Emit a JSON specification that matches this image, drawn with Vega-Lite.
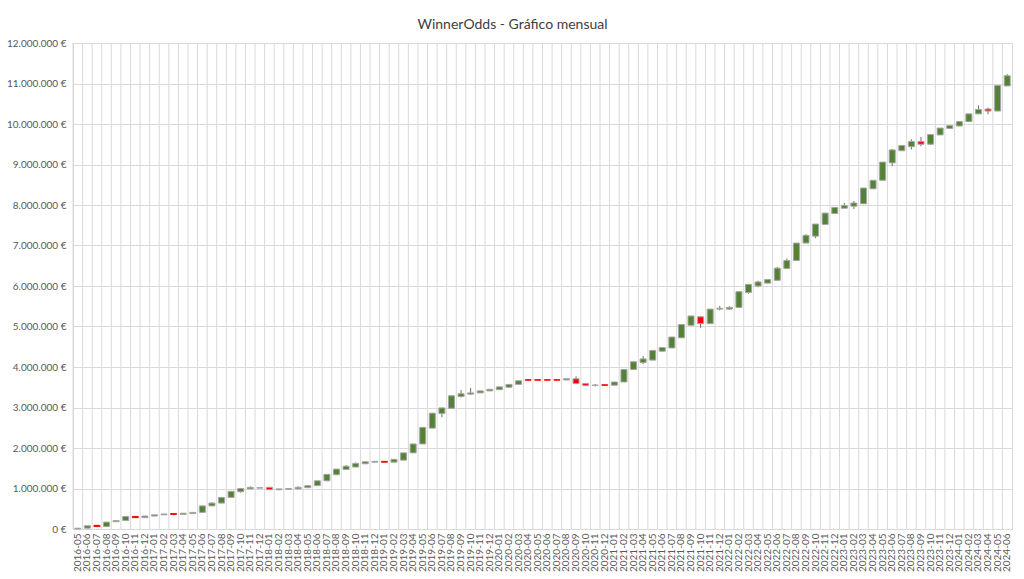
{
  "$schema": "https://vega.github.io/schema/vega-lite/v6.json",
  "width": 939,
  "height": 486,
  "autosize": "none",
  "padding": {"left": 73, "top": 43, "right": 12, "bottom": 50},
  "title": {
    "text": "WinnerOdds - Gráfico mensual",
    "font": "Lato",
    "fontSize": 14,
    "fontWeight": "normal",
    "color": "#404040",
    "anchor": "middle",
    "baseline": "alphabetic",
    "offset": -5,
    "dx": -30
  },
  "data": {
    "values": [
      {"m": "2016-05", "o": 0, "c": 20000, "h": 20000, "l": 0},
      {"m": "2016-06", "o": 20000, "c": 80000, "h": 80000, "l": 20000},
      {"m": "2016-07", "o": 90000, "c": 60000, "h": 90000, "l": 60000},
      {"m": "2016-08", "o": 60000, "c": 170000, "h": 170000, "l": 60000},
      {"m": "2016-09", "o": 180000, "c": 210000, "h": 210000, "l": 180000},
      {"m": "2016-10", "o": 210000, "c": 310000, "h": 310000, "l": 210000},
      {"m": "2016-11", "o": 310000, "c": 280000, "h": 310000, "l": 280000},
      {"m": "2016-12", "o": 280000, "c": 320000, "h": 320000, "l": 280000},
      {"m": "2017-01", "o": 320000, "c": 350000, "h": 350000, "l": 320000},
      {"m": "2017-02", "o": 350000, "c": 370000, "h": 370000, "l": 350000},
      {"m": "2017-03", "o": 380000, "c": 360000, "h": 380000, "l": 340000},
      {"m": "2017-04", "o": 360000, "c": 390000, "h": 390000, "l": 360000},
      {"m": "2017-05", "o": 380000, "c": 410000, "h": 410000, "l": 380000},
      {"m": "2017-06", "o": 410000, "c": 570000, "h": 570000, "l": 410000},
      {"m": "2017-07", "o": 570000, "c": 640000, "h": 660000, "l": 570000},
      {"m": "2017-08", "o": 640000, "c": 780000, "h": 780000, "l": 640000},
      {"m": "2017-09", "o": 780000, "c": 930000, "h": 930000, "l": 780000},
      {"m": "2017-10", "o": 920000, "c": 1000000, "h": 1000000, "l": 900000},
      {"m": "2017-11", "o": 990000, "c": 1030000, "h": 1050000, "l": 990000},
      {"m": "2017-12", "o": 1010000, "c": 1020000, "h": 1020000, "l": 1010000},
      {"m": "2018-01", "o": 1030000, "c": 970000, "h": 1030000, "l": 970000},
      {"m": "2018-02", "o": 970000, "c": 990000, "h": 990000, "l": 960000},
      {"m": "2018-03", "o": 980000, "c": 1000000, "h": 1000000, "l": 980000},
      {"m": "2018-04", "o": 990000, "c": 1030000, "h": 1050000, "l": 990000},
      {"m": "2018-05", "o": 1020000, "c": 1070000, "h": 1070000, "l": 1020000},
      {"m": "2018-06", "o": 1070000, "c": 1190000, "h": 1190000, "l": 1070000},
      {"m": "2018-07", "o": 1190000, "c": 1350000, "h": 1350000, "l": 1190000},
      {"m": "2018-08", "o": 1340000, "c": 1480000, "h": 1480000, "l": 1340000},
      {"m": "2018-09", "o": 1470000, "c": 1550000, "h": 1580000, "l": 1470000},
      {"m": "2018-10", "o": 1530000, "c": 1620000, "h": 1640000, "l": 1530000},
      {"m": "2018-11", "o": 1610000, "c": 1660000, "h": 1660000, "l": 1610000},
      {"m": "2018-12", "o": 1650000, "c": 1670000, "h": 1670000, "l": 1650000},
      {"m": "2019-01", "o": 1670000, "c": 1650000, "h": 1670000, "l": 1650000},
      {"m": "2019-02", "o": 1650000, "c": 1720000, "h": 1720000, "l": 1650000},
      {"m": "2019-03", "o": 1700000, "c": 1880000, "h": 1880000, "l": 1700000},
      {"m": "2019-04", "o": 1880000, "c": 2100000, "h": 2100000, "l": 1880000},
      {"m": "2019-05", "o": 2100000, "c": 2510000, "h": 2510000, "l": 2100000},
      {"m": "2019-06", "o": 2490000, "c": 2860000, "h": 2860000, "l": 2490000},
      {"m": "2019-07", "o": 2850000, "c": 2990000, "h": 2990000, "l": 2760000},
      {"m": "2019-08", "o": 2980000, "c": 3290000, "h": 3290000, "l": 2980000},
      {"m": "2019-09", "o": 3270000, "c": 3340000, "h": 3430000, "l": 3250000},
      {"m": "2019-10", "o": 3330000, "c": 3360000, "h": 3480000, "l": 3310000},
      {"m": "2019-11", "o": 3360000, "c": 3410000, "h": 3410000, "l": 3360000},
      {"m": "2019-12", "o": 3410000, "c": 3450000, "h": 3450000, "l": 3410000},
      {"m": "2020-01", "o": 3440000, "c": 3510000, "h": 3510000, "l": 3440000},
      {"m": "2020-02", "o": 3500000, "c": 3570000, "h": 3570000, "l": 3480000},
      {"m": "2020-03", "o": 3570000, "c": 3660000, "h": 3660000, "l": 3570000},
      {"m": "2020-04", "o": 3685000, "c": 3675000, "h": 3685000, "l": 3675000},
      {"m": "2020-05", "o": 3685000, "c": 3675000, "h": 3685000, "l": 3675000},
      {"m": "2020-06", "o": 3685000, "c": 3675000, "h": 3685000, "l": 3675000},
      {"m": "2020-07", "o": 3685000, "c": 3675000, "h": 3685000, "l": 3675000},
      {"m": "2020-08", "o": 3680000, "c": 3710000, "h": 3710000, "l": 3680000},
      {"m": "2020-09", "o": 3710000, "c": 3590000, "h": 3770000, "l": 3590000},
      {"m": "2020-10", "o": 3590000, "c": 3540000, "h": 3610000, "l": 3540000},
      {"m": "2020-11", "o": 3545000, "c": 3555000, "h": 3580000, "l": 3520000},
      {"m": "2020-12", "o": 3560000, "c": 3550000, "h": 3560000, "l": 3550000},
      {"m": "2021-01", "o": 3550000, "c": 3630000, "h": 3630000, "l": 3550000},
      {"m": "2021-02", "o": 3630000, "c": 3940000, "h": 3940000, "l": 3630000},
      {"m": "2021-03", "o": 3940000, "c": 4130000, "h": 4130000, "l": 3940000},
      {"m": "2021-04", "o": 4110000, "c": 4200000, "h": 4270000, "l": 4070000},
      {"m": "2021-05", "o": 4170000, "c": 4410000, "h": 4410000, "l": 4170000},
      {"m": "2021-06", "o": 4390000, "c": 4480000, "h": 4480000, "l": 4390000},
      {"m": "2021-07", "o": 4470000, "c": 4740000, "h": 4740000, "l": 4470000},
      {"m": "2021-08", "o": 4720000, "c": 5050000, "h": 5050000, "l": 4720000},
      {"m": "2021-09", "o": 5030000, "c": 5260000, "h": 5260000, "l": 5030000},
      {"m": "2021-10", "o": 5240000, "c": 5070000, "h": 5240000, "l": 4960000},
      {"m": "2021-11", "o": 5070000, "c": 5430000, "h": 5430000, "l": 5070000},
      {"m": "2021-12", "o": 5430000, "c": 5450000, "h": 5510000, "l": 5400000},
      {"m": "2022-01", "o": 5430000, "c": 5470000, "h": 5500000, "l": 5410000},
      {"m": "2022-02", "o": 5470000, "c": 5860000, "h": 5860000, "l": 5470000},
      {"m": "2022-03", "o": 5840000, "c": 6040000, "h": 6040000, "l": 5810000},
      {"m": "2022-04", "o": 6000000, "c": 6100000, "h": 6130000, "l": 5970000},
      {"m": "2022-05", "o": 6070000, "c": 6160000, "h": 6160000, "l": 6070000},
      {"m": "2022-06", "o": 6140000, "c": 6440000, "h": 6470000, "l": 6140000},
      {"m": "2022-07", "o": 6430000, "c": 6630000, "h": 6680000, "l": 6430000},
      {"m": "2022-08", "o": 6630000, "c": 7060000, "h": 7060000, "l": 6630000},
      {"m": "2022-09", "o": 7060000, "c": 7250000, "h": 7280000, "l": 7060000},
      {"m": "2022-10", "o": 7230000, "c": 7530000, "h": 7530000, "l": 7180000},
      {"m": "2022-11", "o": 7520000, "c": 7800000, "h": 7800000, "l": 7520000},
      {"m": "2022-12", "o": 7790000, "c": 7940000, "h": 7940000, "l": 7790000},
      {"m": "2023-01", "o": 7920000, "c": 7990000, "h": 8050000, "l": 7920000},
      {"m": "2023-02", "o": 7970000, "c": 8050000, "h": 8100000, "l": 7900000},
      {"m": "2023-03", "o": 8030000, "c": 8420000, "h": 8420000, "l": 8030000},
      {"m": "2023-04", "o": 8400000, "c": 8610000, "h": 8610000, "l": 8400000},
      {"m": "2023-05", "o": 8610000, "c": 9060000, "h": 9060000, "l": 8610000},
      {"m": "2023-06", "o": 9040000, "c": 9360000, "h": 9380000, "l": 8960000},
      {"m": "2023-07", "o": 9340000, "c": 9470000, "h": 9470000, "l": 9340000},
      {"m": "2023-08", "o": 9440000, "c": 9570000, "h": 9620000, "l": 9370000},
      {"m": "2023-09", "o": 9570000, "c": 9500000, "h": 9680000, "l": 9450000},
      {"m": "2023-10", "o": 9500000, "c": 9740000, "h": 9740000, "l": 9480000},
      {"m": "2023-11", "o": 9730000, "c": 9900000, "h": 9900000, "l": 9730000},
      {"m": "2023-12", "o": 9890000, "c": 9960000, "h": 9960000, "l": 9890000},
      {"m": "2024-01", "o": 9950000, "c": 10060000, "h": 10060000, "l": 9950000},
      {"m": "2024-02", "o": 10060000, "c": 10250000, "h": 10250000, "l": 10060000},
      {"m": "2024-03", "o": 10250000, "c": 10360000, "h": 10460000, "l": 10250000},
      {"m": "2024-04", "o": 10370000, "c": 10320000, "h": 10400000, "l": 10240000},
      {"m": "2024-05", "o": 10320000, "c": 10950000, "h": 10950000, "l": 10320000},
      {"m": "2024-06", "o": 10940000, "c": 11190000, "h": 11230000, "l": 10940000}
    ]
  },
  "encoding": {
    "x": {
      "field": "m",
      "type": "ordinal",
      "sort": null,
      "title": null,
      "scale": {"paddingInner": 0, "paddingOuter": 0},
      "axis": {
        "labelAngle": -90,
        "labelFont": "Lato",
        "labelFontSize": 10,
        "labelColor": "#595959",
        "labelPadding": 4,
        "ticks": false,
        "grid": false,
        "domainColor": "#d9d9d9"
      }
    }
  },
  "layer": [
    {
      "mark": {"type": "rule", "color": "#d9d9d9", "strokeWidth": 1},
      "encoding": {
        "x": {"field": "m", "type": "ordinal", "sort": null, "bandPosition": 0}
      }
    },
    {
      "mark": {"type": "rule", "color": "#6f6f6f", "strokeWidth": 1},
      "encoding": {
        "y": {
          "field": "l",
          "type": "quantitative",
          "title": null,
          "scale": {"domain": [0, 12000000], "nice": false},
          "axis": {
            "values": [0, 1000000, 2000000, 3000000, 4000000, 5000000, 6000000, 7000000, 8000000, 9000000, 10000000, 11000000, 12000000],
            "format": "$,.0f",
            "labelFont": "Lato",
            "labelFontSize": 10,
            "labelColor": "#595959",
            "labelPadding": 7,
            "ticks": false,
            "domain": false,
            "gridColor": "#d9d9d9"
          }
        },
        "y2": {"field": "h"}
      }
    },
    {
      "mark": {"type": "bar", "size": 6, "strokeWidth": 1},
      "encoding": {
        "y": {"field": "o", "type": "quantitative"},
        "y2": {"field": "c"},
        "color": {
          "condition": {"test": "datum.c < datum.o", "value": "#ff0000"},
          "value": "#548235"
        },
        "stroke": {
          "condition": {"test": "datum.c < datum.o && datum.o - datum.c < 40000", "value": "#ff0000"},
          "value": "#a6a6a6"
        }
      }
    }
  ],
  "config": {
    "locale": {
      "number": {"decimal": ",", "thousands": ".", "grouping": [3], "currency": ["", " €"]}
    },
    "view": {"stroke": "#d9d9d9"},
    "background": "white"
  }
}
